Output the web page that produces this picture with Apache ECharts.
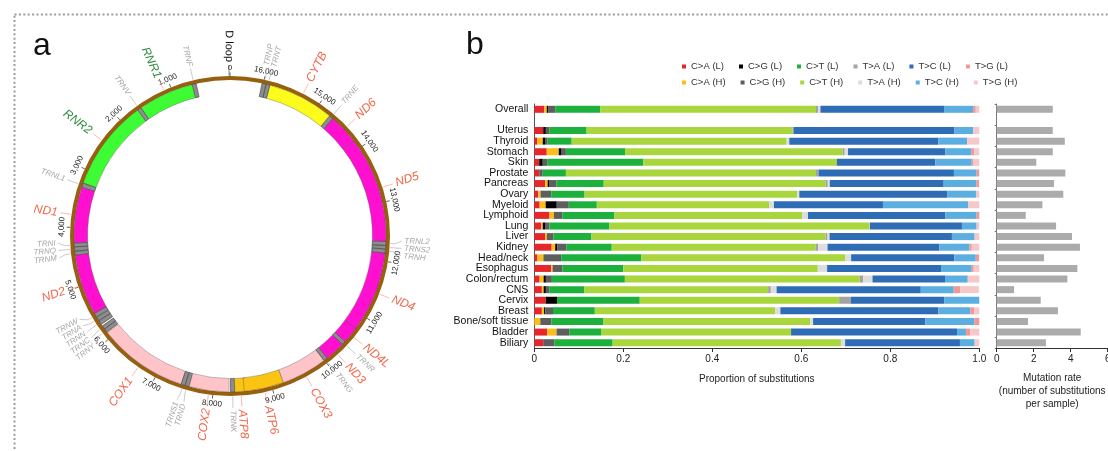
<!DOCTYPE html>
<html><head><meta charset="utf-8">
<script src="https://cdn.jsdelivr.net/npm/echarts@6/dist/echarts.min.js"></script>
<style>html,body{margin:0;padding:0;background:#fff}#c{width:1108px;height:451px}</style>
</head><body><div id="c"></div><script>
const FONT = "'Liberation Sans', Arial, Helvetica, sans-serif";

// ---------------- Panel a: mitochondrial genome ----------------
const genomeLength = 16569;
const geneNames  = ['TRNF','RNR1','TRNV','RNR2','TRNL1','ND1','TRNI','TRNQ','TRNM','ND2','TRNW','TRNA','TRNN','TRNC','TRNY','COX1','TRNS1','TRND','COX2','TRNK','ATP8','ATP6','COX3','TRNG','ND3','TRNR','ND4L','ND4','TRNH','TRNS2','TRNL2','ND5','ND6','TRNE','CYTB','TRNT','TRNP'];
const geneStarts = [577,648,1602,1671,3230,3307,4263,4329,4402,4470,5512,5587,5657,5761,5826,5904,7446,7518,7586,8295,8366,8527,9207,9991,10059,10405,10470,10760,12138,12207,12266,12337,14149,14674,14747,15888,15956];
const geneEnds   = [647,1601,1670,3229,3304,4262,4331,4400,4469,5511,5579,5655,5729,5826,5891,7445,7514,7585,8269,8364,8572,9207,9990,10058,10404,10469,10766,12137,12206,12265,12336,14148,14673,14742,15887,15953,16023];
const dLoopStart = 16024, dLoopEnd = 576;
const tickPositions = [0,1000,2000,3000,4000,5000,6000,7000,8000,9000,10000,11000,12000,13000,14000,15000,16000];

// ---------------- Panel b: substitutions ----------------
const rows = ['Overall','Uterus','Thyroid','Stomach','Skin','Prostate','Pancreas','Ovary','Myeloid','Lymphoid','Lung','Liver','Kidney','Head/neck','Esophagus','Colon/rectum','CNS','Cervix','Breast','Bone/soft tissue','Bladder','Biliary'];
const CA_L = [.022,.020,.007,.028,.011,.011,.024,.009,.012,.034,.016,.024,.039,.007,.038,.012,.017,.0255,.017,0,.029,.020];
const CA_H = [.006,0,.012,.027,0,0,.006,.005,.0135,.010,.003,.004,.008,.0135,.003,.009,.004,0,.005,.0135,.021,0];
const CG_L = [.003,.006,.005,.005,.008,0,.003,0,.025,0,.005,0,.005,0,0,.005,.005,.0255,.003,0,0,0];
const CG_H = [.016,.0075,.006,.011,.010,.008,.017,.024,.027,.019,.010,.015,.020,.040,.022,.0135,.0075,0,.017,.025,.0285,.025];
const CT_L = [.101,.084,.054,.133,.216,.052,.106,.075,.063,.117,.135,.0855,.102,.180,.137,.164,.079,.186,.094,.117,.0725,.131];
const CT_H = [.485,.463,.483,.489,.435,.562,.499,.478,.387,.422,.584,.526,.458,.458,.437,.528,.413,.448,.405,.465,.426,.513];
const TA_L = [.005,.002,0,.0045,0,.006,.0045,0,0,0,0,.0045,.006,0,0,.0075,.006,.026,0,0,0,0];
const TA_H = [.005,0,.006,.0075,0,0,.0045,.0045,.011,.013,.001,.0045,.021,.0135,.021,.021,.013,0,.012,.006,0,.0095];
const TC_L = [.279,.361,.335,.219,.221,.304,.256,.333,.245,.309,.207,.275,.251,.232,.256,.163,.324,.210,.355,.252,.373,.258];
const TC_H = [.064,.043,.065,.058,.082,.051,.073,.064,.192,.070,.033,.051,.068,.048,.069,.051,.074,.079,.072,.110,.020,.033];
const TG_L = [.006,0,0,.007,.004,.006,.0065,0,0,.006,0,0,.005,.0075,.0045,0,.015,0,.009,.0115,.010,0];
const TG_H = [.008,.0135,.027,.011,.013,0,0,.0075,.0245,0,.006,.0105,.017,0,.0125,.026,.0415,0,.011,0,.020,.0105];
const mutationRate = [3.03,3.03,3.68,3.03,2.14,3.71,3.10,3.60,2.47,1.57,3.21,4.07,4.50,2.56,4.36,3.82,0.94,2.38,3.31,1.69,4.54,2.66];
const seriesNames = ['C>A (L)','C>A (H)','C>G (L)','C>G (H)','C>T (L)','C>T (H)','T>A (L)','T>A (H)','T>C (L)','T>C (H)','T>G (L)','T>G (H)'];
const seriesValues = [CA_L, CA_H, CG_L, CG_H, CT_L, CT_H, TA_L, TA_H, TC_L, TC_H, TG_L, TG_H];
const seriesColors = ['#e5262b','#fbbd19','#000000','#5e5e5e','#1db03d','#a8d63c','#a3a3a3','#dddddd','#2e6db6','#5aaee0','#ef9896','#f7c8ca'];

// category axis with a blank row after "Overall"
const categories = [rows[0], ''].concat(rows.slice(1));
const withGap = arr => [arr[0], '-'].concat(arr.slice(1));

// ---------------- helpers for polar drawing ----------------
function geo(params, api, r, pos) {
  const cs = params.coordSys;
  const p = api.coord([r, pos]);
  const dx = p[0] - cs.cx, dy = p[1] - cs.cy;
  return {x: p[0], y: p[1], phi: Math.atan2(dy, dx), rad: Math.sqrt(dx*dx + dy*dy), cx: cs.cx, cy: cs.cy};
}
function normRot(r) {
  let flipped = false;
  while (r > Math.PI/2 + 1e-9) { r -= Math.PI; flipped = !flipped; }
  while (r <= -Math.PI/2 + 1e-9) { r += Math.PI; flipped = !flipped; }
  return {rot: r, flipped};
}
function geneFill(name) {
  if (name.startsWith('TRN')) return '#8d8d8d';
  if (name.startsWith('RNR')) return '#3dfc33';
  if (name.startsWith('ND')) return '#ff10d0';
  if (name.startsWith('COX')) return '#ffc4c8';
  if (name.startsWith('ATP')) return '#fbc312';
  if (name.startsWith('CYTB')) return '#fbfb1c';
  return '#ccc';
}
function labelColor(name) {
  if (name === 'D loop') return '#111';
  if (name.startsWith('TRN')) return '#a6a6a6';
  if (name.startsWith('RNR')) return '#2e8a3f';
  return '#f1674a';
}

// label positions (midpoints), spread apart where crowded
const labelNames = geneNames.concat(['D loop']);
const labelTrue = geneStarts.map((s, i) => (s + geneEnds[i]) / 2)
  .concat([((dLoopStart + dLoopEnd + genomeLength) / 2) % genomeLength]);
const labelShown = labelTrue.slice();
(function spread() {
  const gap = 112;
  const order = labelShown.map((p, i) => i).sort((a, b) => labelShown[a] - labelShown[b]);
  for (let it = 0; it < 200; it++) {
    for (let k = 0; k < order.length - 1; k++) {
      const a = order[k], b = order[k + 1];
      const d = labelShown[b] - labelShown[a];
      if (d < gap) { const o = (gap - d) / 2; labelShown[a] -= o; labelShown[b] += o; }
    }
  }
})();

const chart = echarts.init(document.getElementById('c'), null, {renderer: 'canvas'});

const barSeries = seriesNames.map((n, i) => ({
  name: n, type: 'bar', stack: 'sub', xAxisIndex: 0, yAxisIndex: 0,
  barWidth: 7, itemStyle: {color: seriesColors[i]},
  data: withGap(seriesValues[i]), silent: true
}));

const legendCommon = {
  orient: 'horizontal', icon: 'rect', itemWidth: 4, itemHeight: 4, itemGap: 15,
  padding: 0, selectedMode: false,
  textStyle: {fontSize: 9.5, color: '#333', fontFamily: FONT}
};

const option = {
  animation: false,
  backgroundColor: '#fff',
  textStyle: {fontFamily: FONT},
  graphic: [
    {type: 'rect', left: 12, top: 12, shape: {width: 1120, height: 470},
     style: {fill: 'none', stroke: '#9c9c9c', lineWidth: 2, lineDash: [2, 2.4]}, silent: true},
    {type: 'text', left: 33, top: 30, style: {text: 'a', font: '32px ' + FONT, fill: '#111'}},
    {type: 'text', left: 466, top: 29, style: {text: 'b', font: '32px ' + FONT, fill: '#111'}}
  ],
  legend: [
    Object.assign({data: seriesNames.filter((n, i) => i % 2 === 0), left: 682, top: 61.5}, legendCommon),
    Object.assign({data: seriesNames.filter((n, i) => i % 2 === 1), left: 682, top: 77.5}, legendCommon)
  ],
  grid: [
    {left: 534.3, top: 104, width: 445, height: 244, outerBoundsMode: 'none', containLabel: false},
    {left: 996.7, top: 104, width: 111, height: 244, outerBoundsMode: 'none', containLabel: false}
  ],
  xAxis: [
    {gridIndex: 0, type: 'value', min: 0, max: 1, interval: 0.2,
     axisLine: {show: true, lineStyle: {color: '#333', width: 1}},
     axisTick: {show: true, length: 4, lineStyle: {color: '#333'}},
     splitLine: {show: false},
     axisLabel: {fontSize: 10, color: '#222', margin: 6, fontFamily: FONT,
       formatter: v => v === 0 ? '0' : v.toFixed(1)},
     name: 'Proportion of substitutions', nameLocation: 'middle', nameGap: 26,
     nameTextStyle: {fontSize: 10, color: '#222', fontFamily: FONT}},
    {gridIndex: 1, type: 'value', min: 0, max: 6, interval: 2,
     axisLine: {show: true, lineStyle: {color: '#333', width: 1}},
     axisTick: {show: true, length: 4, lineStyle: {color: '#333'}},
     splitLine: {show: false},
     axisLabel: {fontSize: 10, color: '#222', margin: 6, fontFamily: FONT, showMaxLabel: true},
     name: 'Mutation rate\n(number of substitutions\nper sample)', nameLocation: 'middle', nameGap: 24,
     nameTextStyle: {fontSize: 10, color: '#222', lineHeight: 13, fontFamily: FONT}}
  ],
  yAxis: [
    {gridIndex: 0, type: 'category', data: categories, inverse: true,
     axisLine: {show: true, lineStyle: {color: '#555'}}, axisTick: {show: false},
     splitLine: {show: false},
     axisLabel: {fontSize: 10.5, color: '#111', margin: 6, fontFamily: FONT, interval: 0}},
    {gridIndex: 1, type: 'category', data: categories, inverse: true,
     axisLine: {show: true, lineStyle: {color: '#777'}},
     axisTick: {show: true, length: 2, lineStyle: {color: '#777'}},
     splitLine: {show: false}, axisLabel: {show: false}}
  ],
  polar: {center: [230, 236], radius: 160},
  angleAxis: {type: 'value', min: 0, max: genomeLength, startAngle: 90, clockwise: false,
    axisLine: {show: false}, axisTick: {show: false}, axisLabel: {show: false}, splitLine: {show: false}},
  radiusAxis: {type: 'value', min: 0, max: 160,
    axisLine: {show: false}, axisTick: {show: false}, axisLabel: {show: false}, splitLine: {show: false}},
  series: barSeries.concat([
    {type: 'bar', xAxisIndex: 1, yAxisIndex: 1, barWidth: 7, silent: true,
     itemStyle: {color: '#ababab'}, data: withGap(mutationRate)},
    // brown outer ring
    {type: 'custom', coordinateSystem: 'polar', silent: true, data: [[158, 0]],
     renderItem(params, api) {
       const o = geo(params, api, 160, 0), i = geo(params, api, 156, 0);
       return {type: 'ring', shape: {cx: o.cx, cy: o.cy, r: o.rad, r0: i.rad},
               style: {fill: '#96600f'}};
     }},
    // gene bands
    {type: 'custom', coordinateSystem: 'polar', silent: true,
     data: geneNames.map((n, i) => [150, geneStarts[i], geneEnds[i]]),
     renderItem(params, api) {
       const name = geneNames[params.dataIndex];
       const s = api.value(1), e = api.value(2);
       const A = geo(params, api, 156, s), B = geo(params, api, 156, e), C = geo(params, api, 142.5, s);
       let a0 = B.phi, a1 = A.phi;
       while (a1 < a0) a1 += 2 * Math.PI;
       const isT = name.startsWith('TRN');
       return {type: 'sector',
         shape: {cx: A.cx, cy: A.cy, r0: C.rad, r: A.rad, startAngle: a0, endAngle: a1, clockwise: true},
         style: {fill: geneFill(name), stroke: isT ? '#4a4a4a' : 'rgba(60,60,60,0.55)', lineWidth: isT ? 0.7 : 0.6}};
     }},
    // scale ticks and numbers
    {type: 'custom', coordinateSystem: 'polar', silent: true,
     data: tickPositions.map(t => [168, t]),
     renderItem(params, api) {
       const t = api.value(1);
       const p0 = geo(params, api, 160, t), p1 = geo(params, api, 163.5, t), pt = geo(params, api, 168.5, t);
       const nr = normRot(Math.PI / 2 - pt.phi);
       return {type: 'group', children: [
         {type: 'line', shape: {x1: p0.x, y1: p0.y, x2: p1.x, y2: p1.y}, style: {stroke: '#333', lineWidth: 0.8}},
         {type: 'text', x: pt.x, y: pt.y, rotation: nr.rot,
          style: {text: t.toLocaleString('en-US'), fill: '#222', font: '8px ' + FONT, align: 'center', verticalAlign: 'middle'}}
       ]};
     }},
    // gene labels with leader lines
    {type: 'custom', coordinateSystem: 'polar', silent: true,
     data: labelNames.map((n, i) => [174, labelShown[i], labelTrue[i]]),
     renderItem(params, api) {
       const name = labelNames[params.dataIndex];
       const shown = api.value(1), truePos = api.value(2);
       const isT = name.startsWith('TRN');
       const isD = name === 'D loop';
       const a = geo(params, api, 160.5, truePos);
       const b = geo(params, api, isT ? 165 : 166, truePos);
       const c = geo(params, api, isT ? 172 : 171, shown);
       const t = geo(params, api, isT ? 174.5 : 174, shown);
       const nr = normRot(-t.phi);
       const col = labelColor(name);
       const size = isT ? 8 : (isD ? 11 : 12);
       const style = isD ? 'normal' : 'italic';
       return {type: 'group', children: [
         {type: 'polyline', shape: {points: [[a.x, a.y], [b.x, b.y], [c.x, c.y]]},
          style: {stroke: isT ? '#b5b5b5' : (isD ? '#555' : '#f4a08e'), lineWidth: 0.7, fill: 'none'}},
         {type: 'text', x: t.x, y: t.y, rotation: nr.rot,
          style: {text: name, fill: col, font: style + ' ' + size + 'px ' + FONT,
                  align: nr.flipped ? 'right' : 'left', verticalAlign: 'middle'}}
       ]};
     }}
  ])
};
chart.setOption(option);
</script></body></html>
